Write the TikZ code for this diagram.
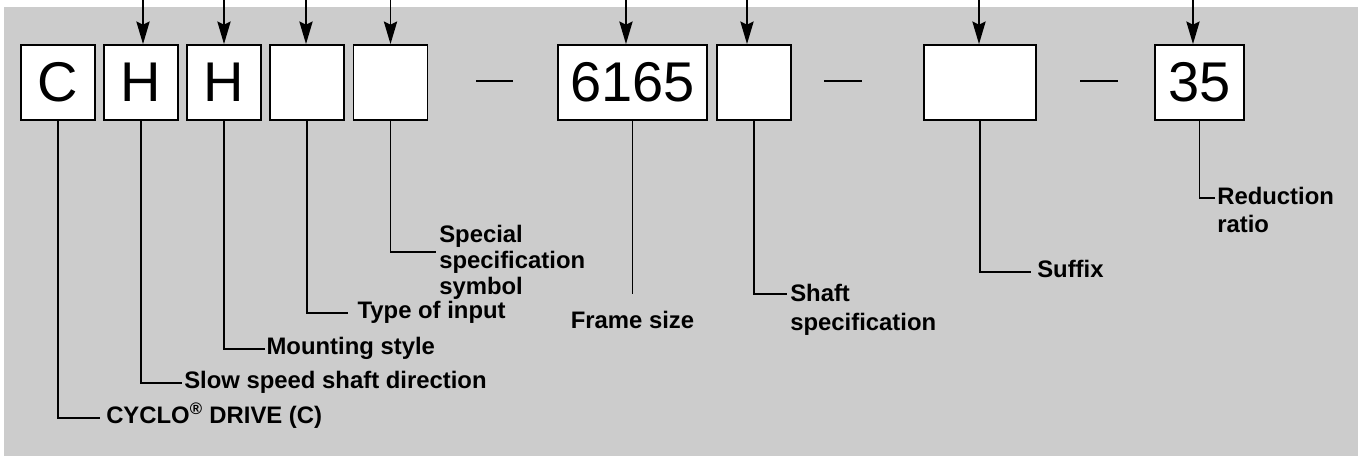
\documentclass[tikz,border=0pt]{standalone}
\usepackage{fontspec}
\setmainfont{Liberation Sans}
\usetikzlibrary{arrows.meta}
\definecolor{panel}{RGB}{204,204,204}
\begin{document}
\begin{tikzpicture}[x=0.75pt, y={(0pt,-0.75pt)},
  box/.style={draw,line width=1.4pt,fill=white,minimum height=56.25pt,minimum width=55.5pt,inner sep=0pt,font=\fontsize{42pt}{42pt}\selectfont},
  lbl/.style={inner sep=0pt,inner xsep=1.5pt,text height=12.5pt,text depth=5pt,anchor=west,font=\fontsize{17.9pt}{20.6pt}\selectfont\bfseries},
  mlbl/.style={inner sep=0pt,align=left,anchor=north west,font=\fontsize{17.9pt}{20.6pt}\selectfont\bfseries},
  lead/.style={line width=1.4pt},
  arr/.style={line width=1.1pt,-{Stealth[length=17pt,width=10pt,inset=2.5pt]}}]
\useasboundingbox (0,0) rectangle (1358,456);
\fill[panel] (4,7) rectangle (1358,456);
\coordinate (top) at (0,0);
% code boxes
\node[box] (bC) at (58,82.5) {C};
\node[box] (bS) at (141,82.5) {H};
\node[box] (bM) at (224,82.5) {H};
\node[box] (bT) at (307,82.5) {};
\node[box] (bP) at (390.5,82.5) {};
\node[box,minimum width=111.75pt] (bF) at (632.5,82.5) {6165};
\node[box] (bH) at (754,82.5) {};
\node[box,minimum width=84pt] (bX) at (980,82.5) {};
\node[box,minimum width=66.75pt] (bR) at (1199.5,82.5) {35};
\draw[line width=1pt] (476,81) -- (513,81);
\draw[line width=1pt] (824,81) -- (862,81);
\draw[line width=1pt] (1080,81) -- (1118,81);
% arrows from above
\draw[arr] ([xshift=1.5pt]bS.north |- top) -- ([xshift=1.5pt]bS.north);
\draw[arr] (bM.north |- top) -- (bM.north);
\draw[arr] ([xshift=-0.75pt]bT.north |- top) -- ([xshift=-0.75pt]bT.north);
\draw[arr] (bP.north |- top) -- (bP.north);
\draw[arr] ([xshift=-4.9pt]bF.north |- top) -- ([xshift=-4.9pt]bF.north);
\draw[arr] ([xshift=-5.25pt]bH.north |- top) -- ([xshift=-5.25pt]bH.north);
\draw[arr] ([xshift=-0.75pt]bX.north |- top) -- ([xshift=-0.75pt]bX.north);
\draw[arr] ([xshift=-4.9pt]bR.north |- top) -- ([xshift=-4.9pt]bR.north);
% labels
\node[lbl,inner xsep=4.5pt] (lC) at (100,418) {CYCLO\textsuperscript{®} DRIVE (C)};
\node[lbl] (lS) at (182,383) {Slow speed shaft direction};
\node[lbl,inner xsep=1pt] (lM) at (265,349) {Mounting style};
\node[lbl,inner xsep=7pt] (lT) at (348,313) {Type of input};
\node[mlbl,font=\fontsize{17.9pt}{19.5pt}\selectfont\bfseries] (lP) at (439,225) {Special\\specification\\symbol};
\node[mlbl,anchor=north] (lF) at (632.5,311) {Frame size};
\node[mlbl,font=\fontsize{17.9pt}{21.5pt}\selectfont\bfseries] (lH) at (790,284) {Shaft\\specification};
\node[lbl,inner xsep=4.5pt] (lX) at (1031,272) {Suffix};
\node[mlbl] (lR) at (1217,187) {Reduction\\ratio};
\draw[lead] (bC.south) |- (lC.west);
\draw[lead] (bS.south) |- (lS.west);
\draw[lead] (bM.south) |- (lM.west);
\draw[lead] (bT.south) |- (lT.west);
\draw[lead] (bP.south) |- ([shift={(-3,27)}]lP.north west);
\draw[lead] (bF.south) -- ([shift={(0,-17)}]lF.north);
\draw[lead] (bH.south) |- ([shift={(-3,10)}]lH.north west);
\draw[lead] (bX.south) |- (lX.west);
\draw[lead] (bR.south) |- ([shift={(-2,11)}]lR.north west);
\end{tikzpicture}
\end{document}
